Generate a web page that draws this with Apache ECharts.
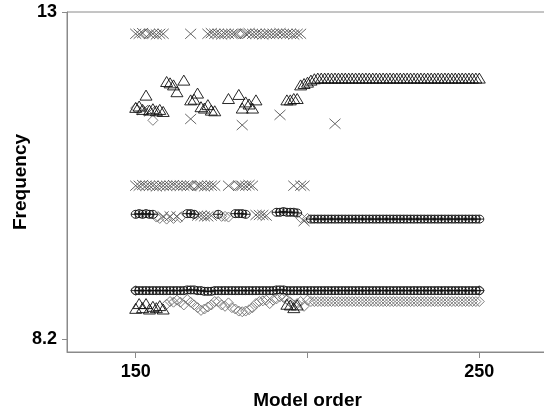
<!DOCTYPE html>
<html>
<head>
<meta charset="utf-8">
<script src="https://cdn.jsdelivr.net/npm/echarts@6/dist/echarts.min.js"></script>
<style>
  html, body { margin: 0; padding: 0; background: #fff; }
  #chart { width: 544px; height: 413px; }
</style>
</head>
<body>
<div id="chart"></div>
<script>
// Stabilisation diagram: pole frequencies against model order.
// Each list holds [model order, frequency] pairs for one marker kind.

// Stable poles (circle with plus)
const stableMid = [
  [150,10.03],[151,10.04],[152,10.03],[153,10.04],[154,10.03],[155,10.03],
  [165,10.04],[166,10.04],[167,10.03],[174,10.03],
  [179,10.04],[180,10.04],[181,10.04],[182,10.03],
  [191,10.06],[192,10.06],[193,10.07],[194,10.06],[195,10.06],[196,10.06],[197,10.05],
  [201,9.96],[202,9.96],[203,9.96],[204,9.96],[205,9.96],[206,9.96],[207,9.96],[208,9.96],[209,9.96],[210,9.96],
  [211,9.96],[212,9.96],[213,9.96],[214,9.96],[215,9.96],[216,9.96],[217,9.96],[218,9.96],[219,9.96],[220,9.96],
  [221,9.96],[222,9.96],[223,9.96],[224,9.96],[225,9.96],[226,9.96],[227,9.96],[228,9.96],[229,9.96],[230,9.96],
  [231,9.96],[232,9.96],[233,9.96],[234,9.96],[235,9.96],[236,9.96],[237,9.96],[238,9.96],[239,9.96],[240,9.96],
  [241,9.96],[242,9.96],[243,9.96],[244,9.96],[245,9.96],[246,9.96],[247,9.96],[248,9.96],[249,9.96],[250,9.96]
];
const stableLow = [
  [150,8.91],[151,8.91],[152,8.91],[153,8.91],[154,8.91],[155,8.91],[156,8.91],[157,8.91],[158,8.91],[159,8.91],
  [160,8.91],[161,8.91],[162,8.91],[163,8.91],[164,8.91],[165,8.92],[166,8.92],[167,8.92],[168,8.91],[169,8.91],
  [170,8.90],[171,8.90],[172,8.90],[173,8.91],[174,8.91],[175,8.91],[176,8.91],[177,8.91],[178,8.91],[179,8.91],
  [180,8.91],[181,8.91],[182,8.91],[183,8.91],[184,8.91],[185,8.91],[186,8.91],[187,8.91],[188,8.91],[189,8.91],
  [190,8.91],[191,8.92],[192,8.92],[193,8.92],[194,8.91],[195,8.91],[196,8.91],[197,8.91],[198,8.91],[199,8.91],
  [200,8.91],[201,8.91],[202,8.91],[203,8.91],[204,8.91],[205,8.91],[206,8.91],[207,8.91],[208,8.91],[209,8.91],
  [210,8.91],[211,8.91],[212,8.91],[213,8.91],[214,8.91],[215,8.91],[216,8.91],[217,8.91],[218,8.91],[219,8.91],
  [220,8.91],[221,8.91],[222,8.91],[223,8.91],[224,8.91],[225,8.91],[226,8.91],[227,8.91],[228,8.91],[229,8.91],
  [230,8.91],[231,8.91],[232,8.91],[233,8.91],[234,8.91],[235,8.91],[236,8.91],[237,8.91],[238,8.91],[239,8.91],
  [240,8.91],[241,8.91],[242,8.91],[243,8.91],[244,8.91],[245,8.91],[246,8.91],[247,8.91],[248,8.91],[249,8.91],
  [250,8.91]
];

// Poles stable in frequency only (diamond)
const freqStable = [
  [153,12.68],[180,12.68],[181,12.68],
  [150,11.59],[155,11.41],
  [167,10.45],[179,10.45],
  [156,9.99],[157,9.97],[159,9.96],[161,9.97],[163,9.98],[175,10.0],[176,10.0],[177,9.99],[198,9.98],[200,9.97],
  [150,8.91],[250,8.91],
  [159,8.71],[160,8.75],[161,8.74],[162,8.77],[163,8.74],[164,8.70],[165,8.78],[166,8.74],[167,8.70],[168,8.66],
  [169,8.62],[170,8.64],[171,8.67],[172,8.70],[173,8.75],[174,8.75],[175,8.70],[176,8.68],[177,8.73],[178,8.66],
  [179,8.64],[180,8.61],[181,8.60],[182,8.61],[183,8.63],[184,8.66],[185,8.72],[186,8.75],[187,8.76],[188,8.77],
  [189,8.72],[190,8.77],[191,8.79],[192,8.82],[193,8.81],[194,8.78],[195,8.74],[196,8.70],[197,8.72],[198,8.75],
  [199,8.68],[200,8.77],
  [201,8.75],[202,8.75],[203,8.75],[204,8.75],[205,8.75],[206,8.75],[207,8.75],[208,8.75],[209,8.75],[210,8.75],
  [211,8.75],[212,8.75],[213,8.75],[214,8.75],[215,8.75],[216,8.75],[217,8.75],[218,8.75],[219,8.75],[220,8.75],
  [221,8.75],[222,8.75],[223,8.75],[224,8.75],[225,8.75],[226,8.75],[227,8.75],[228,8.75],[229,8.75],[230,8.75],
  [231,8.75],[232,8.75],[233,8.75],[234,8.75],[235,8.75],[236,8.75],[237,8.75],[238,8.75],[239,8.75],[240,8.75],
  [241,8.75],[242,8.75],[243,8.75],[244,8.75],[245,8.75],[246,8.75],[247,8.75],[248,8.75],[249,8.75],[250,8.75]
];

// Unstable poles (cross)
const unstable = [
  [150,12.68],[151,12.68],[152,12.69],[154,12.68],[155,12.68],[156,12.67],[157,12.68],[158,12.68],
  [166,12.68],
  [171,12.68],[172,12.69],[173,12.68],[174,12.68],[175,12.67],[176,12.68],[177,12.68],[178,12.68],[179,12.68],
  [182,12.68],[183,12.69],[184,12.68],[185,12.68],[186,12.68],[187,12.67],[188,12.68],[189,12.68],[190,12.68],
  [191,12.68],[192,12.69],[193,12.68],[194,12.68],[195,12.68],[196,12.67],[197,12.68],[198,12.68],
  [152,11.56],[154,11.54],[166,11.43],[181,11.34],[192,11.49],[208,11.36],
  [150,10.45],[151,10.45],[152,10.46],[153,10.45],[154,10.45],[155,10.45],[156,10.44],[157,10.45],[158,10.45],
  [159,10.45],[160,10.45],[161,10.46],[162,10.45],[163,10.45],[164,10.45],[165,10.45],[166,10.45],
  [168,10.45],[169,10.45],[170,10.44],[171,10.45],[172,10.45],[173,10.45],
  [177,10.45],[180,10.45],[181,10.45],[182,10.45],[183,10.46],[184,10.45],
  [196,10.45],[198,10.45],[199,10.45],
  [158,10.0],[160,10.0],[162,10.0],[168,10.01],[169,10.01],[170,10.0],[171,10.0],[172,10.01],
  [185,10.02],[186,10.02],[187,10.02],[188,10.01],[199,9.93]
];

// Poles stable in damping only (triangle)
const dampStable = [
  [150,11.60],[151,11.62],[152,11.57],[153,11.78],[154,11.56],[155,11.58],[156,11.55],[157,11.57],[158,11.54],
  [159,11.98],[160,11.96],[161,11.93],[162,11.83],[164,12.00],[166,11.71],[167,11.72],[168,11.81],[169,11.61],
  [170,11.59],[171,11.64],[172,11.56],[173,11.55],[177,11.73],[180,11.79],[181,11.59],[182,11.68],[183,11.65],
  [184,11.59],[185,11.71],[194,11.71],[195,11.71],[196,11.73],[197,11.73],
  [198,11.93],[199,11.95],[200,11.97],[201,12.0],[202,12.02],
  [203,12.03],[204,12.03],[205,12.03],[206,12.03],[207,12.03],[208,12.03],[209,12.03],[210,12.03],
  [211,12.03],[212,12.03],[213,12.03],[214,12.03],[215,12.03],[216,12.03],[217,12.03],[218,12.03],[219,12.03],[220,12.03],
  [221,12.03],[222,12.03],[223,12.03],[224,12.03],[225,12.03],[226,12.03],[227,12.03],[228,12.03],[229,12.03],[230,12.03],
  [231,12.03],[232,12.03],[233,12.03],[234,12.03],[235,12.03],[236,12.03],[237,12.03],[238,12.03],[239,12.03],[240,12.03],
  [241,12.03],[242,12.03],[243,12.03],[244,12.03],[245,12.03],[246,12.03],[247,12.03],[248,12.03],[249,12.03],[250,12.03],
  [150,8.65],[151,8.72],[152,8.66],[153,8.72],[154,8.64],[155,8.68],[156,8.66],[157,8.69],[158,8.64],
  [194,8.71],[195,8.70],[196,8.66],[197,8.70]
];

// Axis ticks and labels
const xTicks = [150, 200, 250];
const xLabels = [150, 250];
const yTicks = [8.2, 13];

const FONT = 'Liberation Sans, Arial, Helvetica, sans-serif';
const AXIS_GREY = '#8a8a8a';

const chart = echarts.init(document.getElementById('chart'), null, { renderer: 'canvas' });

function markerSeries(name, data, symbol, size, stroke, width) {
  return {
    name: name,
    type: 'scatter',
    data: data,
    symbol: symbol,
    symbolSize: size,
    silent: true,
    itemStyle: { color: 'rgba(0,0,0,0)', borderColor: stroke, borderWidth: width, opacity: 1 }
  };
}

chart.setOption({
  animation: false,
  backgroundColor: '#fff',
  grid: {
    left: 67, top: 12, width: 481, height: 340,
    outerBoundsMode: 'none', containLabel: false,
    show: true, borderColor: AXIS_GREY, borderWidth: 1, backgroundColor: 'transparent'
  },
  xAxis: {
    type: 'value', min: 130, max: 270,
    axisLine: { show: true, onZero: false, lineStyle: { color: AXIS_GREY, width: 1 } },
    axisTick: { show: true, customValues: xTicks, length: 6, lineStyle: { color: AXIS_GREY } },
    axisLabel: { customValues: xLabels, margin: 11, color: '#000', fontSize: 18, fontWeight: 'bold', fontFamily: FONT },
    splitLine: { show: false },
    name: 'Model order', nameLocation: 'middle', nameGap: 39, nameMoveOverlap: false,
    nameTextStyle: { color: '#000', fontSize: 19, fontWeight: 'bold', fontFamily: FONT }
  },
  yAxis: {
    type: 'value', min: 8.009, max: 13,
    axisLine: { show: true, onZero: false, lineStyle: { color: AXIS_GREY, width: 1 } },
    axisTick: { show: true, customValues: yTicks, length: 5, lineStyle: { color: AXIS_GREY } },
    axisLabel: { customValues: yTicks, margin: 10, color: '#000', fontSize: 18, fontWeight: 'bold', fontFamily: FONT },
    splitLine: { show: false },
    name: 'Frequency', nameLocation: 'middle', nameGap: 37, nameRotate: 90, nameMoveOverlap: false,
    nameTextStyle: { color: '#000', fontSize: 19, fontWeight: 'bold', fontFamily: FONT }
  },
  series: [
    markerSeries('Frequency stable', freqStable, 'diamond', [10, 10], '#707070', 0.9),
    markerSeries('Not stable', unstable, 'path://M0,0L10,10M10,0L0,10', [11, 10], '#555', 0.9),
    markerSeries('Damping stable', dampStable, 'triangle', [12, 10], '#111', 0.9),
    markerSeries('Stable', stableMid.concat(stableLow), 'path://M0,4A4,4 0 1 1 8,4A4,4 0 1 1 0,4ZM4,0L4,8M0,4L8,4', [9, 8], '#111', 0.9)
  ]
});
</script>
</body>
</html>
